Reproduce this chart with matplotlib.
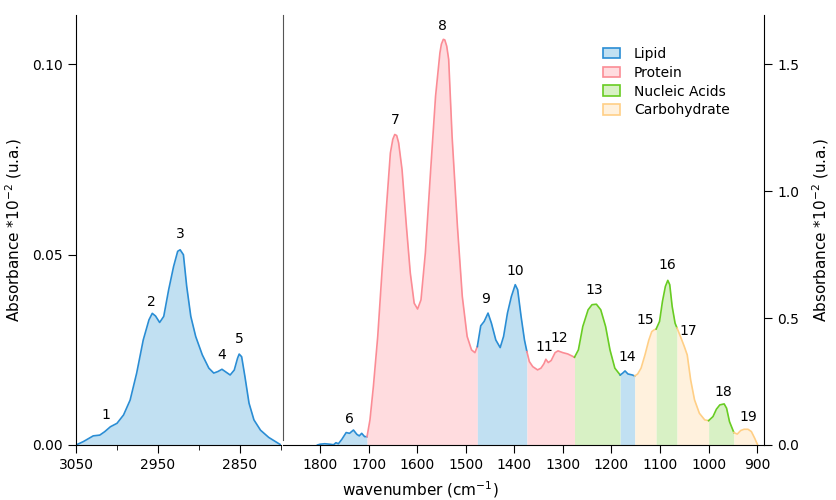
"""FTIR absorbance spectrum: CH stretch region + fingerprint region, bands coloured by class."""
import numpy as np
import matplotlib.pyplot as plt
from matplotlib.patches import Patch

plt.rcParams.update({"font.family": "DejaVu Sans", "font.size": 10,
                     "xtick.direction": "out", "ytick.direction": "out"})

# ---------- data ----------
# CH stretching region (left y-axis units)
wn_ch = [3050, 3041, 3029, 3021, 3015, 3008, 3000, 2992, 2984, 2976, 2968, 2961, 2957, 2953,
         2948, 2943, 2937, 2931, 2926, 2923, 2919, 2915, 2910, 2904, 2896, 2888, 2882, 2877,
         2872, 2868, 2862, 2857, 2853, 2851, 2848, 2844, 2839, 2833, 2825, 2815, 2800]
ab_ch = [0.0000, 0.0009, 0.0024, 0.0026, 0.0035, 0.0048, 0.0057, 0.0079, 0.0118, 0.0189,
         0.0276, 0.0329, 0.0346, 0.0339, 0.0322, 0.0338, 0.0408, 0.0469, 0.0509, 0.0513,
         0.0500, 0.0417, 0.0338, 0.0285, 0.0237, 0.0202, 0.0189, 0.0193, 0.0199, 0.0193,
         0.0184, 0.0197, 0.0228, 0.0239, 0.0232, 0.0180, 0.0110, 0.0066, 0.0039, 0.0020, 0.0000]

# fingerprint region (right y-axis units)
wn_fp = [1805, 1800, 1790, 1779, 1772, 1767, 1762, 1755, 1746, 1739, 1731, 1724, 1719, 1714,
         1708, 1703, 1697, 1690, 1681, 1672, 1663, 1655, 1650, 1646, 1642, 1638, 1631, 1622,
         1614, 1606, 1599, 1592, 1583, 1572, 1562, 1553, 1550, 1546, 1543, 1539, 1535, 1528,
         1517, 1507, 1497, 1488, 1481, 1476, 1469, 1462, 1454, 1447, 1438, 1429, 1422, 1414,
         1406, 1398, 1393, 1386, 1379, 1374, 1369, 1362, 1352, 1345, 1339, 1335, 1330, 1324,
         1316, 1310, 1300, 1290, 1276, 1268, 1259, 1248, 1240, 1231, 1222, 1212, 1203, 1193,
         1182, 1177, 1172, 1166, 1157, 1152, 1146, 1139, 1131, 1123, 1117, 1112, 1108, 1101,
         1095, 1089, 1084, 1080, 1075, 1069, 1065, 1058, 1050, 1044, 1037, 1029, 1019, 1008,
         1000, 991, 984, 977, 968, 963, 957, 948, 941, 934, 927, 919, 912, 905, 899]
ab_fp = [0.000, 0.003, 0.005, 0.003, 0.001, 0.009, 0.005, 0.022, 0.049, 0.046, 0.059, 0.042,
         0.036, 0.046, 0.033, 0.033, 0.099, 0.230, 0.428, 0.690, 0.940, 1.151, 1.205, 1.224,
         1.220, 1.191, 1.086, 0.862, 0.678, 0.559, 0.536, 0.572, 0.757, 1.086, 1.375, 1.546,
         1.580, 1.599, 1.597, 1.572, 1.520, 1.217, 0.862, 0.586, 0.428, 0.375, 0.364, 0.388,
         0.470, 0.487, 0.520, 0.480, 0.414, 0.384, 0.428, 0.520, 0.585, 0.632, 0.612, 0.507,
         0.414, 0.368, 0.329, 0.309, 0.296, 0.303, 0.320, 0.338, 0.325, 0.333, 0.364, 0.371,
         0.364, 0.359, 0.346, 0.375, 0.467, 0.533, 0.553, 0.555, 0.533, 0.467, 0.375, 0.303,
         0.276, 0.283, 0.292, 0.280, 0.276, 0.272, 0.280, 0.303, 0.355, 0.414, 0.447, 0.454,
         0.457, 0.487, 0.566, 0.625, 0.649, 0.632, 0.546, 0.480, 0.461, 0.428, 0.388, 0.355,
         0.257, 0.178, 0.125, 0.099, 0.096, 0.112, 0.141, 0.158, 0.162, 0.145, 0.092, 0.049,
         0.043, 0.057, 0.062, 0.062, 0.053, 0.026, 0.000]

# band boundaries (cm-1) and class of each band between them
fp_edges = [1805, 1703, 1476, 1374, 1276, 1182, 1152, 1108, 1065, 1000, 948, 899]
fp_class = ["Lipid", "Protein", "Lipid", "Protein", "Nucleic Acids", "Lipid",
            "Carbohydrate", "Nucleic Acids", "Carbohydrate", "Nucleic Acids", "Carbohydrate"]

classes = ["Lipid", "Protein", "Nucleic Acids", "Carbohydrate"]
line_col = {"Lipid": "#2a8dd4", "Protein": "#fb8c95", "Nucleic Acids": "#68cc22", "Carbohydrate": "#ffcf86"}
fill_col = {"Lipid": "#c1e0f2", "Protein": "#ffdcdf", "Nucleic Acids": "#d8f1c5", "Carbohydrate": "#fff1dd"}

# peak numbers: (wavenumber, height) of label centre
ch_peaks = {"1": (3014, 0.0079), "2": (2958, 0.0377), "3": (2923, 0.0554),
            "4": (2872, 0.0237), "5": (2851, 0.0279)}
fp_peaks = {"6": (1740, 0.103), "7": (1645, 1.283), "8": (1548, 1.651), "9": (1459, 0.576),
            "10": (1399, 0.684), "11": (1338, 0.388), "12": (1307, 0.421), "13": (1236, 0.612),
            "14": (1168, 0.346), "15": (1130, 0.493), "16": (1086, 0.711), "17": (1041, 0.451),
            "18": (970, 0.208), "19": (919, 0.109)}

# ---------- figure ----------
fig = plt.figure(figsize=(8.36, 5.0), dpi=100)
axL = fig.add_axes([76/836, 55/500, 205/836, 430/500])
axR = fig.add_axes([283/836, 55/500, 481/836, 430/500])

# left panel: CH stretch, all lipid
wn_ch_a = np.array(wn_ch); ab_ch_a = np.array(ab_ch)
axL.fill_between(wn_ch_a, 0, ab_ch_a, color=fill_col["Lipid"], lw=0)
axL.plot(wn_ch_a, ab_ch_a, color=line_col["Lipid"], lw=1.2)
for k, (x, y) in ch_peaks.items():
    axL.text(x, y, k, ha="center", va="center", fontsize=10)
axL.set_xlim(3050, 2800); axL.set_ylim(0, 0.113)
axL.set_xticks([3050, 2950, 2850]); axL.set_xticks([3000, 2900, 2800], minor=True)
axL.set_yticks([0, 0.05, 0.10]); axL.set_yticklabels(["0.00", "0.05", "0.10"])
axL.tick_params(which="major", length=6); axL.tick_params(which="minor", length=3.5)
for s in ["top", "right"]:
    axL.spines[s].set_visible(False)
axL.set_ylabel("Absorbance *10$^{-2}$ (u.a.)", fontsize=11, labelpad=6)

# right panel: fingerprint region, segmented by band class
wn_fp_a = np.array(wn_fp); ab_fp_a = np.array(ab_fp)
for hi, lo, cl in zip(fp_edges[:-1], fp_edges[1:], fp_class):
    m = (wn_fp_a <= hi) & (wn_fp_a >= lo)
    axR.fill_between(wn_fp_a[m], 0, ab_fp_a[m], color=fill_col[cl], lw=0)
    axR.plot(wn_fp_a[m], ab_fp_a[m], color=line_col[cl], lw=1.2)
for k, (x, y) in fp_peaks.items():
    axR.text(x, y, k, ha="center", va="center", fontsize=10)
axR.set_xlim(1876, 886); axR.set_ylim(0, 1.695)
axR.set_xticks(np.arange(1800, 899, -100))
axR.set_yticks([0, 0.5, 1.0, 1.5]); axR.set_yticklabels(["0.0", "0.5", "1.0", "1.5"])
axR.yaxis.tick_right(); axR.yaxis.set_label_position("right")
axR.tick_params(length=6)
axR.spines["top"].set_visible(False)
axR.spines["left"].set_color("#555555"); axR.spines["left"].set_linewidth(0.8)
axR.spines["left"].set_bounds(0.02, 1.695)
axR.set_ylabel("Absorbance *10$^{-2}$ (u.a.)", fontsize=11, labelpad=8)

handles = [Patch(facecolor=fill_col[c], edgecolor=line_col[c], lw=1.2, label=c) for c in classes]
axR.legend(handles=handles, loc="upper left", bbox_to_anchor=(0.64, 0.955), frameon=False,
           fontsize=10, handlelength=1.2, handleheight=0.8, labelspacing=0.35, handletextpad=1.0)

fig.text(420/836, 1 - 490/500, "wavenumber (cm$^{-1}$)", ha="center", va="center", fontsize=11)
fig.savefig("out.png", dpi=100)
